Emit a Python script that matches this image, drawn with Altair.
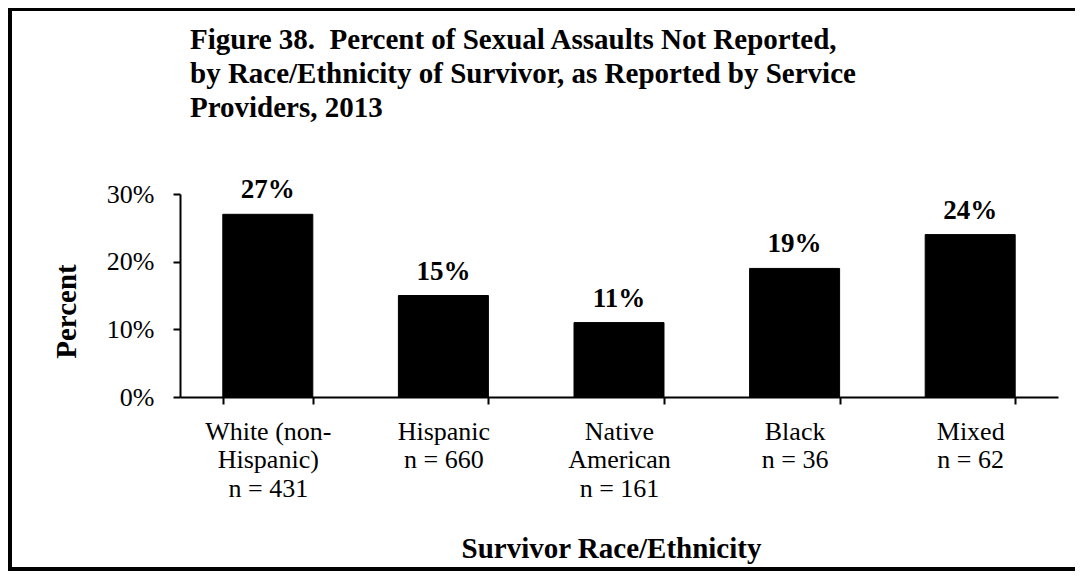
import altair as alt
import pandas as pd

# ---- data ----
groups = ["White (non-Hispanic)", "Hispanic", "Native American", "Black", "Mixed"]
tick_labels = [
    "White (non-|Hispanic)|n = 431",
    "Hispanic|n = 660",
    "Native|American|n = 161",
    "Black|n = 36",
    "Mixed|n = 62",
]
n_values = [431, 660, 161, 36, 62]
percent_not_reported = [0.27, 0.15, 0.11, 0.19, 0.24]

title_lines = [
    "Figure 38.\u00a0 Percent of Sexual Assaults Not Reported,",
    "by Race/Ethnicity of Survivor, as Reported by Service",
    "Providers, 2013",
]

df = pd.DataFrame({
    "group": groups,
    "label": tick_labels,
    "n": n_values,
    "pct": percent_not_reported,
})

FONT = "Liberation Serif"
W, H = 878, 203

x_enc = alt.X(
    "label:N",
    sort=tick_labels,
    scale=alt.Scale(paddingInner=0.4875, paddingOuter=0.24375),
    axis=alt.Axis(
        title="Survivor Race/Ethnicity",
        labelAngle=0,
        labelExpr="split(datum.label, '|')",
        labelFontSize=26,
        labelLineHeight=28.5,
        labelBaseline="top",
        labelPadding=14,
        labelColor="black",
        labelFont=FONT,
        tickBand="extent",
        tickSize=7,
        tickWidth=2,
        tickColor="black",
        domainColor="black",
        domainWidth=2,
        titleFont=FONT,
        titleFontSize=29,
        titleFontWeight="bold",
        titleColor="black",
        titleX=431,
        titleY=160,
        titleBaseline="alphabetic",
        titleAlign="center",
    ),
)

y_enc = alt.Y(
    "pct:Q",
    scale=alt.Scale(domain=[0, 0.30], nice=False),
    axis=alt.Axis(
        title="Percent",
        values=[0, 0.1, 0.2, 0.3],
        format=".0%",
        grid=False,
        labelFontSize=26,
        labelFont=FONT,
        labelColor="black",
        labelPadding=19,
        tickSize=7,
        tickWidth=2,
        tickColor="black",
        domainColor="black",
        domainWidth=2,
        titleFont=FONT,
        titleFontSize=29,
        titleFontWeight="bold",
        titleColor="black",
        titleAngle=270,
        titleX=-114,
        titleY=117,
        titleBaseline="middle",
        titleAlign="center",
    ),
)

base = alt.Chart(df)

bars = base.mark_bar(color="black", stroke="black", strokeWidth=1).encode(
    x=x_enc,
    y=y_enc,
)

value_labels = base.mark_text(
    font=FONT, fontSize=27, fontWeight="bold", color="black",
    baseline="alphabetic", dy=-16,
).encode(
    x=alt.X("label:N", sort=tick_labels),
    y=alt.Y("pct:Q"),
    text=alt.Text("pct:Q", format=".0%"),
)

# figure frame (decoration): top, left and bottom edges
one = pd.DataFrame({"k": [0]})
frame_top = alt.Chart(one).mark_rule(color="black", strokeWidth=4).encode(
    x=alt.value(-172), x2=alt.value(960), y=alt.value(-185)
)
frame_left = alt.Chart(one).mark_rule(color="black", strokeWidth=4).encode(
    x=alt.value(-170), y=alt.value(-187), y2=alt.value(377)
)
frame_bottom = alt.Chart(one).mark_rule(color="black", strokeWidth=4).encode(
    x=alt.value(-172), x2=alt.value(960), y=alt.value(375)
)

chart = alt.layer(bars, value_labels, frame_top, frame_left, frame_bottom).properties(
    width=W,
    height=H,
    title=alt.TitleParams(
        text=title_lines,
        anchor="start",
        font=FONT,
        fontSize=29,
        fontWeight="bold",
        color="black",
        lineHeight=34,
        baseline="top",
        dx=184,
        offset=-118,
    ),
    autosize=alt.AutoSizeParams(type="none"),
    padding={"left": 172, "top": 186, "right": 17, "bottom": 174},
).configure(background="white").configure_view(strokeWidth=0, stroke="transparent")

chart.save("out.html", embed_options={"renderer": "svg", "actions": False})
